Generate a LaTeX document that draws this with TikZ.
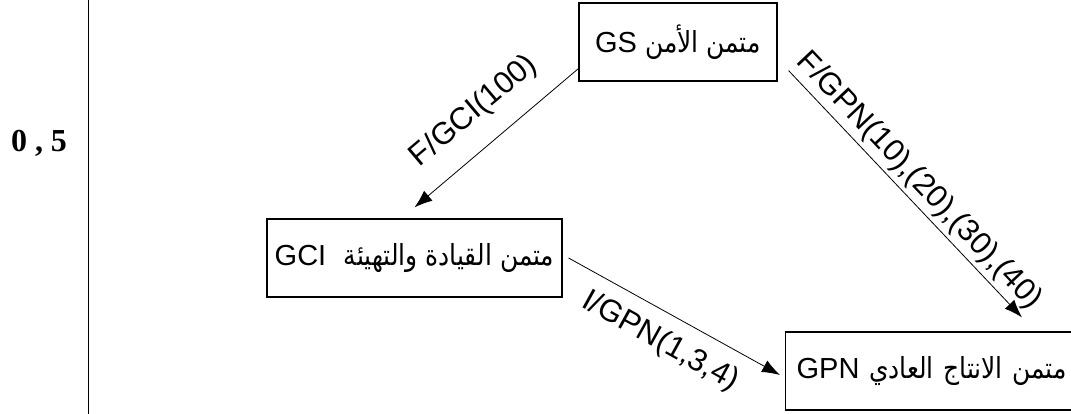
\documentclass[tikz,border=0pt]{standalone}
\usepackage{fontspec}
\setmainfont{Liberation Sans}
\newfontfamily\arabicfont[Script=Arabic, FakeStretch=0.86]{DejaVu Sans}
\newfontfamily\gradefont{Liberation Serif}
\TeXXeTstate=1
\usetikzlibrary{positioning, arrows.meta, calc}

\newcommand{\ar}[1]{{\arabicfont\beginR #1\endR}}

\begin{document}
\begin{tikzpicture}[x=1pt, y=-1pt, >={Latex[length=18pt,width=13pt]},
  unit/.style={draw, line width=1.2pt, minimum height=78pt, inner xsep=0pt, inner ysep=0pt, font=\fontsize{29}{31}\selectfont},
  flow/.style={->, line width=0.8pt},
  tag/.style={midway, sloped, inner sep=0pt, font=\fontsize{31}{33}\selectfont}]

  \useasboundingbox (0,0) rectangle (1071,414);

  % margin mark
  \node[font=\gradefont\bfseries\fontsize{32}{34}\selectfont] (grade) at (39,143) {0 , 5};
  \coordinate (rule-top) at (88,0);
  \coordinate (rule-bot) at (88,414);
  \draw[line width=1pt] (rule-top) -- (rule-bot);

  % units
  \node[unit, minimum width=198pt] (gs) at (678,42) {GS \ar{متمن الأمن}};
  \node[unit, minimum width=295pt] (gci) at (414.5,258) {GCI\hspace{0.6em}\ar{متمن القيادة والتهيئة}};
  \node[unit, anchor=west, text width=280pt, align=left, inner xsep=11pt] (gpn) at (785,371) {GPN \ar{متمن الانتاج العادي}};

  % messages
  \draw[flow] ([yshift=13pt]gs.south west) -- ([yshift=11pt]gci.north)
    node[tag, above=20pt] (m-gci) {F/GCI(100)};
  \draw[flow] ([xshift=11pt,yshift=11pt]gs.south east) -- ([xshift=237pt,yshift=14pt]gpn.north west)
    node[tag, above=4pt] (m-gpn) {F/GPN(10),(20),(30),(40)};
  \draw[flow] ([xshift=6pt]gci.east) -- ([xshift=-5pt,yshift=-4pt]gpn.west)
    node[tag, below=14pt] (m-low) {I/GPN(1,3,4)};

\end{tikzpicture}
\end{document}
